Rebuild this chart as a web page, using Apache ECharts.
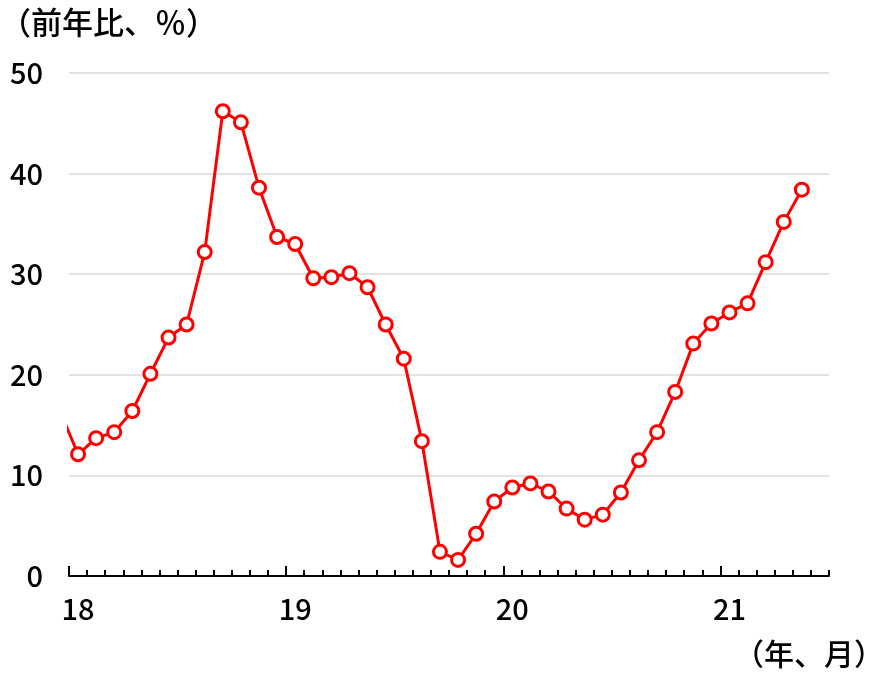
<!DOCTYPE html>
<html>
<head>
<meta charset="utf-8">
<script src="https://cdn.jsdelivr.net/npm/echarts@6/dist/echarts.min.js"></script>
<style>
  html, body { margin: 0; padding: 0; background: #fff; }
  #chart { width: 870px; height: 679px; }
</style>
</head>
<body>
<div id="chart"></div>
<script>
// 前年比（%）, monthly from 2018-01 to 2021-05
const yearLabels = ['18', '19', '20', '21']
const prevMonthValue = 16.4 // 2017-12, only the line stub at the left edge
const growth = [
  12.1, 13.7, 14.3, 16.4, 20.1, 23.7, 25.0, 32.2, 46.2, 45.1, 38.6, 33.7,
  33.0, 29.6, 29.7, 30.1, 28.7, 25.0, 21.6, 13.4, 2.4, 1.6, 4.2, 7.4,
  8.8, 9.2, 8.4, 6.7, 5.6, 6.1, 8.3, 11.5, 14.3, 18.3, 23.1, 25.1,
  26.2, 27.1, 31.2, 35.2, 38.4
]
const monthCount = 42

const FONT = '"Noto Sans CJK JP", "Noto Sans", sans-serif'
const RED = '#ff0000'

const seriesData = [{ value: [-0.5, prevMonthValue], symbol: 'none' }]
  .concat(growth.map((v, i) => [i + 0.5, v]))

const monthTicks = []
for (let i = 0; i <= monthCount; i++) monthTicks.push(i)
const yearTicks = yearLabels.map((_, i) => i * 12)
const yearLabelPos = yearLabels.map((_, i) => i * 12 + 0.5)

const gridBox = { left: 69, right: 41, top: 73, bottom: 103 }

const chart = echarts.init(document.getElementById('chart'))

chart.setOption({
  backgroundColor: '#fff',
  animation: false,
  grid: [
    { ...gridBox, containLabel: false },
    { ...gridBox, containLabel: false }
  ],
  xAxis: [
    {
      type: 'value',
      gridIndex: 0,
      min: 0,
      max: monthCount,
      axisLine: { show: true, onZero: false, lineStyle: { color: '#000', width: 2 } },
      axisTick: {
        show: true,
        inside: true,
        length: 6,
        customValues: monthTicks,
        lineStyle: { color: '#000', width: 2 }
      },
      axisLabel: {
        show: true,
        customValues: yearLabelPos,
        formatter: (v) => yearLabels[Math.floor(v / 12)],
        color: '#000',
        fontSize: 29,
        fontWeight: 500,
        fontFamily: FONT,
        margin: 18
      },
      splitLine: { show: false }
    },
    {
      type: 'value',
      gridIndex: 1,
      min: 0,
      max: monthCount,
      axisLine: { show: false },
      axisTick: {
        show: true,
        inside: true,
        length: 10,
        customValues: yearTicks,
        lineStyle: { color: '#000', width: 2 }
      },
      axisLabel: { show: false },
      splitLine: { show: false }
    }
  ],
  yAxis: [
    {
      type: 'value',
      gridIndex: 0,
      min: 0,
      max: 50,
      interval: 10,
      axisLine: { show: false },
      axisTick: { show: false },
      axisLabel: {
        color: '#000',
        fontSize: 29,
        fontWeight: 500,
        fontFamily: FONT,
        margin: 26
      },
      splitLine: { show: true, lineStyle: { color: '#d9d9d9', width: 1.5 } }
    },
    {
      type: 'value',
      gridIndex: 1,
      min: 0,
      max: 50,
      show: false
    }
  ],
  graphic: [
    {
      type: 'text',
      left: 0,
      top: 7,
      style: { text: '（前年比、％）', font: '500 31px ' + FONT, fill: '#000' }
    },
    {
      type: 'text',
      left: 734,
      top: 639,
      style: { text: '（年、月）', font: '500 30px ' + FONT, fill: '#000' }
    }
  ],
  series: [
    {
      type: 'line',
      xAxisIndex: 0,
      yAxisIndex: 0,
      data: seriesData,
      clip: true,
      symbol: 'circle',
      symbolSize: 13,
      showAllSymbol: true,
      lineStyle: { color: RED, width: 3 },
      itemStyle: { color: '#fff', borderColor: RED, borderWidth: 3 },
      z: 5
    }
  ]
})
</script>
</body>
</html>
